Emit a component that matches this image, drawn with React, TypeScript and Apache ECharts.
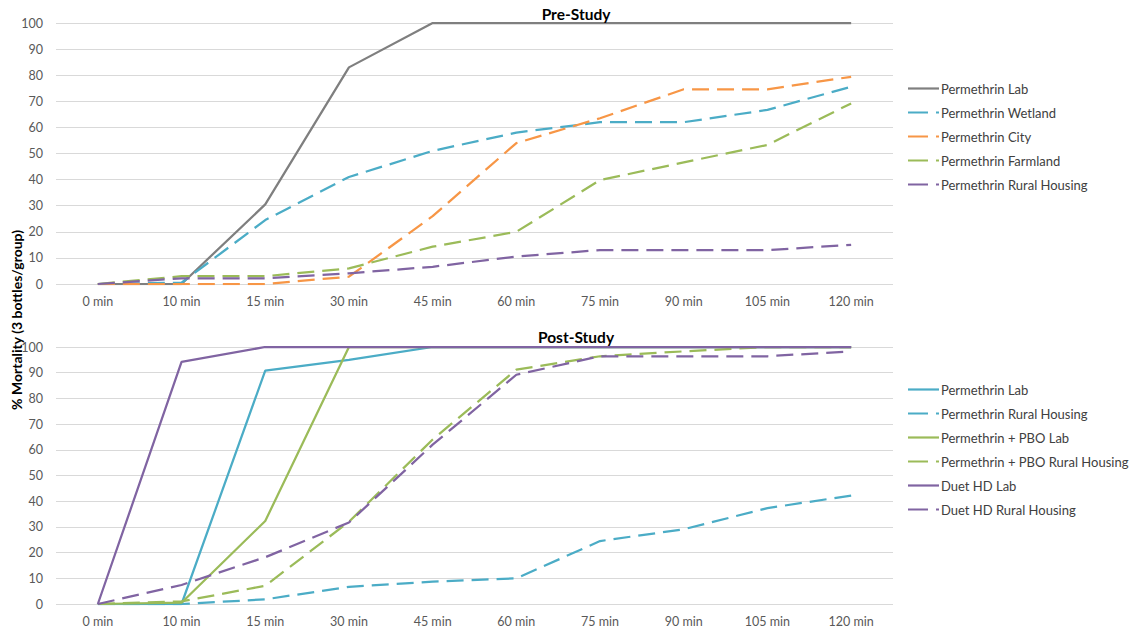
import React, { useEffect, useRef } from "react";
import * as echarts from "echarts";

const categories = ["0 min", "10 min", "15 min", "30 min", "45 min", "60 min", "75 min", "90 min", "105 min", "120 min"];

// Pre-Study
const preLab = [0, 0, 30.5, 83, 100, 100, 100, 100, 100, 100];
const preWetland = [0, 0.5, 24.5, 41, 51, 58, 62, 62, 66.7, 75.6];
const preCity = [0, 0, 0, 2.8, 26, 54, 63.5, 74.6, 74.6, 79.4];
const preFarmland = [0, 3, 3, 6, 14.3, 20, 39.8, 46.6, 53.3, 69.2];
const preRural = [0, 2.2, 2.2, 4.1, 6.6, 10.5, 13, 13, 13, 15];

// Post-Study
const postLab = [0, 0, 90.8, 95, 100, 100, 100, 100, 100, 100];
const postRural = [0, 0, 1.8, 6.7, 8.7, 10, 24.5, 29.1, 37.3, 42.2];
const pboLab = [0, 0.5, 32.3, 100, 100, 100, 100, 100, 100, 100];
const pboRural = [0, 1, 7.1, 32, 64, 91.2, 96.4, 98.3, 100, 100];
const duetLab = [0, 94.2, 100, 100, 100, 100, 100, 100, 100, 100];
const duetRural = [0, 7.4, 18.2, 31.7, 62, 89.2, 96.4, 96.4, 96.4, 98.3];

const preNames = ["Permethrin Lab", "Permethrin Wetland", "Permethrin City", "Permethrin Farmland", "Permethrin Rural Housing"];
const preDashed = [false, true, true, true, true];
const postNames = ["Permethrin Lab", "Permethrin Rural Housing", "Permethrin + PBO Lab", "Permethrin + PBO Rural Housing", "Duet HD Lab", "Duet HD Rural Housing"];
const postDashed = [false, true, false, true, false, true];

const GRAY = "#7f7f7f";
const BLUE = "#4bacc6";
const ORANGE = "#f79646";
const GREEN = "#9bbb59";
const PURPLE = "#8064a2";
const FONT = "Lato, 'Open Sans', sans-serif";
const DASH = [17, 8];
const ICON_SOLID = "path://M0,0h31v2.2h-31z";
const ICON_DASHED = "path://M0,0h20v2.2h-20zM28,0h3v2.2h-3z";

export default function App() {
  const ref = useRef<HTMLDivElement>(null);
  useEffect(() => {
    if (!ref.current) return;
    const chart = echarts.init(ref.current, undefined, { renderer: "svg" });
    const mk = (name: string, data: number[], color: string, dashed: boolean, idx: number) => ({
      name,
      type: "line",
      data,
      xAxisIndex: idx,
      yAxisIndex: idx,
      symbol: "none",
      showSymbol: false,
      color,
      lineStyle: { color, width: 2.25, type: dashed ? DASH : "solid" },
      itemStyle: { color },
    });
    const P = "Post: ";
    const xAx = (gi: number) => ({
      type: "category",
      gridIndex: gi,
      data: categories,
      boundaryGap: true,
      axisLine: { show: false },
      axisTick: { show: false },
      axisLabel: { color: "#595959", fontSize: 12.5, fontFamily: FONT, margin: 11 },
    });
    const yAx = (gi: number) => ({
      type: "value",
      gridIndex: gi,
      min: 0,
      max: 100,
      interval: 10,
      axisLine: { show: false },
      axisTick: { show: false },
      axisLabel: { color: "#595959", fontSize: 12.5, fontFamily: FONT, margin: 13 },
      splitLine: { lineStyle: { color: "#d9d9d9", width: 1 } },
    });
    const legendCommon = {
      orient: "vertical",
      left: 903,
      itemWidth: 31,
      itemHeight: 14,
      itemGap: 11,
      textStyle: { color: "#404040", fontSize: 13, fontFamily: FONT, padding: [0, 0, 0, -3] },
      formatter: (n: string) => n.replace(/^Post: /, ""),
      selectedMode: false,
    };
    chart.setOption({
      animation: false,
      backgroundColor: "#ffffff",
      title: [
        { text: "Pre-Study", left: 571, top: 1, textAlign: "center", textStyle: { fontSize: 15.5, fontWeight: "bold", color: "#000", fontFamily: FONT } },
        { text: "Post-Study", left: 571, top: 324, textAlign: "center", textStyle: { fontSize: 15.5, fontWeight: "bold", color: "#000", fontFamily: FONT } },
      ],
      grid: [
        { left: 56, right: 241, top: 23, height: 261 },
        { left: 56, right: 241, top: 347, height: 257 },
      ],
      xAxis: [xAx(0), xAx(1)],
      yAxis: [yAx(0), yAx(1)],
      legend: [
        {
          ...legendCommon,
          top: 77,
          data: preNames.map((n, i) => ({ name: n, icon: preDashed[i] ? ICON_DASHED : ICON_SOLID })),
        },
        {
          ...legendCommon,
          top: 378,
          data: postNames.map((n, i) => ({ name: P + n, icon: postDashed[i] ? ICON_DASHED : ICON_SOLID })),
        },
      ],
      graphic: [
        {
          type: "text",
          x: 16,
          y: 320,
          rotation: Math.PI / 2,
          style: {
            text: "% Mortality (3 bottles/group)",
            fill: "#000",
            font: "bold 14px " + FONT,
            textAlign: "center",
            textVerticalAlign: "middle",
          },
        },
      ],
      series: [
        mk(preNames[0], preLab, GRAY, preDashed[0], 0),
        mk(preNames[1], preWetland, BLUE, preDashed[1], 0),
        mk(preNames[2], preCity, ORANGE, preDashed[2], 0),
        mk(preNames[3], preFarmland, GREEN, preDashed[3], 0),
        mk(preNames[4], preRural, PURPLE, preDashed[4], 0),
        mk(P + postNames[0], postLab, BLUE, postDashed[0], 1),
        mk(P + postNames[1], postRural, BLUE, postDashed[1], 1),
        mk(P + postNames[2], pboLab, GREEN, postDashed[2], 1),
        mk(P + postNames[3], pboRural, GREEN, postDashed[3], 1),
        mk(P + postNames[4], duetLab, PURPLE, postDashed[4], 1),
        mk(P + postNames[5], duetRural, PURPLE, postDashed[5], 1),
      ],
    });
    return () => chart.dispose();
  }, []);
  return <div ref={ref} style={{ position: "fixed", left: 0, top: 0, width: 1134, height: 633 }} />;
}
